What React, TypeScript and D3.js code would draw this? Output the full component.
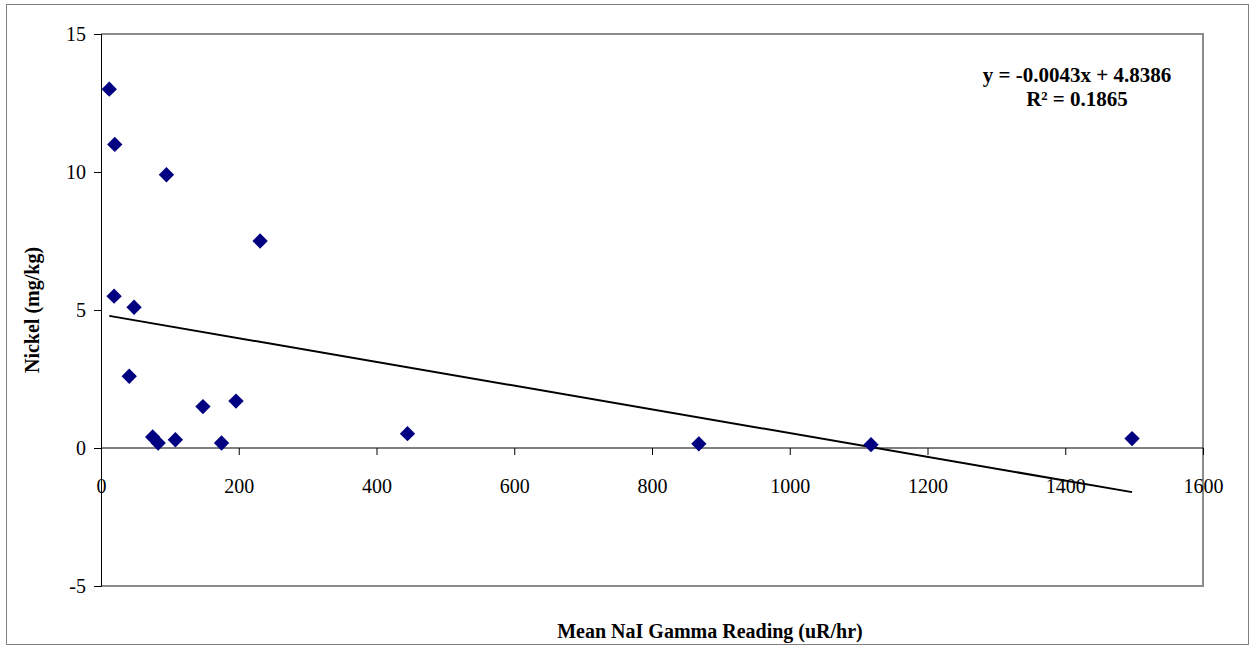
import React, { useRef, useEffect } from 'react';
import * as d3 from 'd3';

// Mean NaI gamma reading (uR/hr) vs nickel (mg/kg)
const gammaReadings = [12, 20, 19, 48, 95, 41, 75, 83, 108, 148, 175, 196, 231, 445, 868, 1118, 1497];
const nickelValues = [13.0, 11.0, 5.5, 5.1, 9.9, 2.6, 0.4, 0.18, 0.3, 1.5, 0.18, 1.7, 7.5, 0.52, 0.15, 0.12, 0.34];
const xTicks = [0, 200, 400, 600, 800, 1000, 1200, 1400, 1600];
const yTicks = [-5, 0, 5, 10, 15];
const slope = -0.0043;
const intercept = 4.8386;
const eqLabels = ['y = -0.0043x + 4.8386', 'R² = 0.1865'];

function App() {
  const ref = useRef<SVGSVGElement>(null);

  var width = 1255, height = 649;
  var margin = { top: 34, right: 52, bottom: 63, left: 101 };

  useEffect(() => {
    const svg = d3.select(ref.current);
    svg.selectAll('*').remove();

    const x = d3.scaleLinear().domain([0, 1600]).range([margin.left, width - margin.right]);
    const y = d3.scaleLinear().domain([-5, 15]).range([height - margin.bottom, margin.top]);
    const fmt = function (d: any) { return String(d); };

    // outer chart border
    svg.append('rect')
      .attr('x', 6.5).attr('y', 4.5)
      .attr('width', 1242).attr('height', 640)
      .attr('fill', 'white')
      .attr('stroke', '#808080').attr('stroke-width', 1);

    // plot area frame (top, right, bottom gray)
    svg.append('path')
      .attr('d', `M${x(0)},${y(15)} H${x(1600)} V${y(-5)} H${x(0)}`)
      .attr('fill', 'none')
      .attr('stroke', '#8c8c8c')
      .attr('stroke-width', 2);

    // y axis
    const yAxis = svg.append('g')
      .attr('transform', `translate(${x(0)},0)`)
      .call(d3.axisLeft(y).tickValues(yTicks).tickSize(7).tickPadding(8).tickFormat(fmt));
    yAxis.select('.domain').attr('stroke', 'black');
    yAxis.selectAll('text')
      .attr('font-family', '"Liberation Serif", "Times New Roman", serif')
      .attr('font-size', 20)
      .attr('fill', 'black');

    // x axis crossing at y = 0
    const xAxis = svg.append('g')
      .attr('transform', `translate(0,${y(0)})`)
      .call(d3.axisBottom(x).tickValues(xTicks).tickSize(7).tickPadding(24).tickFormat(fmt));
    xAxis.select('.domain').attr('stroke', 'black').attr('d', `M${x(0)},0H${x(1600)}`);
    xAxis.selectAll('text')
      .attr('font-family', '"Liberation Serif", "Times New Roman", serif')
      .attr('font-size', 20)
      .attr('fill', 'black');

    // trendline over data range
    const xmin = d3.min(gammaReadings) as number;
    const xmax = d3.max(gammaReadings) as number;
    const line = d3.line<number>()
      .x(function (d) { return x(d); })
      .y(function (d) { return y(slope * d + intercept); });
    svg.append('path')
      .datum([xmin, xmax])
      .attr('d', line)
      .attr('fill', 'none')
      .attr('stroke', 'black')
      .attr('stroke-width', 2);

    // points
    const diamond = d3.symbol().type(d3.symbolDiamond2).size(150);
    svg.selectAll('path.pt')
      .data(gammaReadings)
      .enter()
      .append('path')
      .attr('class', 'pt')
      .attr('d', diamond)
      .attr('transform', function (d, i) { return `translate(${x(d)},${y(nickelValues[i])})`; })
      .attr('fill', '#000080');

    // regression equation
    svg.selectAll('text.eq')
      .data(eqLabels)
      .enter()
      .append('text')
      .attr('class', 'eq')
      .attr('x', 1077)
      .attr('y', function (d, i) { return 82 + i * 24; })
      .attr('text-anchor', 'middle')
      .attr('font-family', '"Liberation Serif", "Times New Roman", serif')
      .attr('font-weight', 'bold')
      .attr('font-size', 21)
      .text(function (d) { return d; });

    // axis titles
    svg.append('text')
      .attr('x', 710)
      .attr('y', 638)
      .attr('text-anchor', 'middle')
      .attr('font-family', '"Liberation Serif", "Times New Roman", serif')
      .attr('font-weight', 'bold')
      .attr('font-size', 20)
      .text('Mean NaI Gamma Reading (uR/hr)');

    svg.append('text')
      .attr('transform', `translate(39,${y(5)}) rotate(-90)`)
      .attr('text-anchor', 'middle')
      .attr('font-family', '"Liberation Serif", "Times New Roman", serif')
      .attr('font-weight', 'bold')
      .attr('font-size', 20)
      .text('Nickel (mg/kg)');
  }, []);

  return (
    <div style={{ position: 'absolute', left: 0, top: 0, width: width, height: height }}>
      <svg ref={ref} width={width} height={height} style={{ display: 'block' }}></svg>
    </div>
  );
}

export default App;
